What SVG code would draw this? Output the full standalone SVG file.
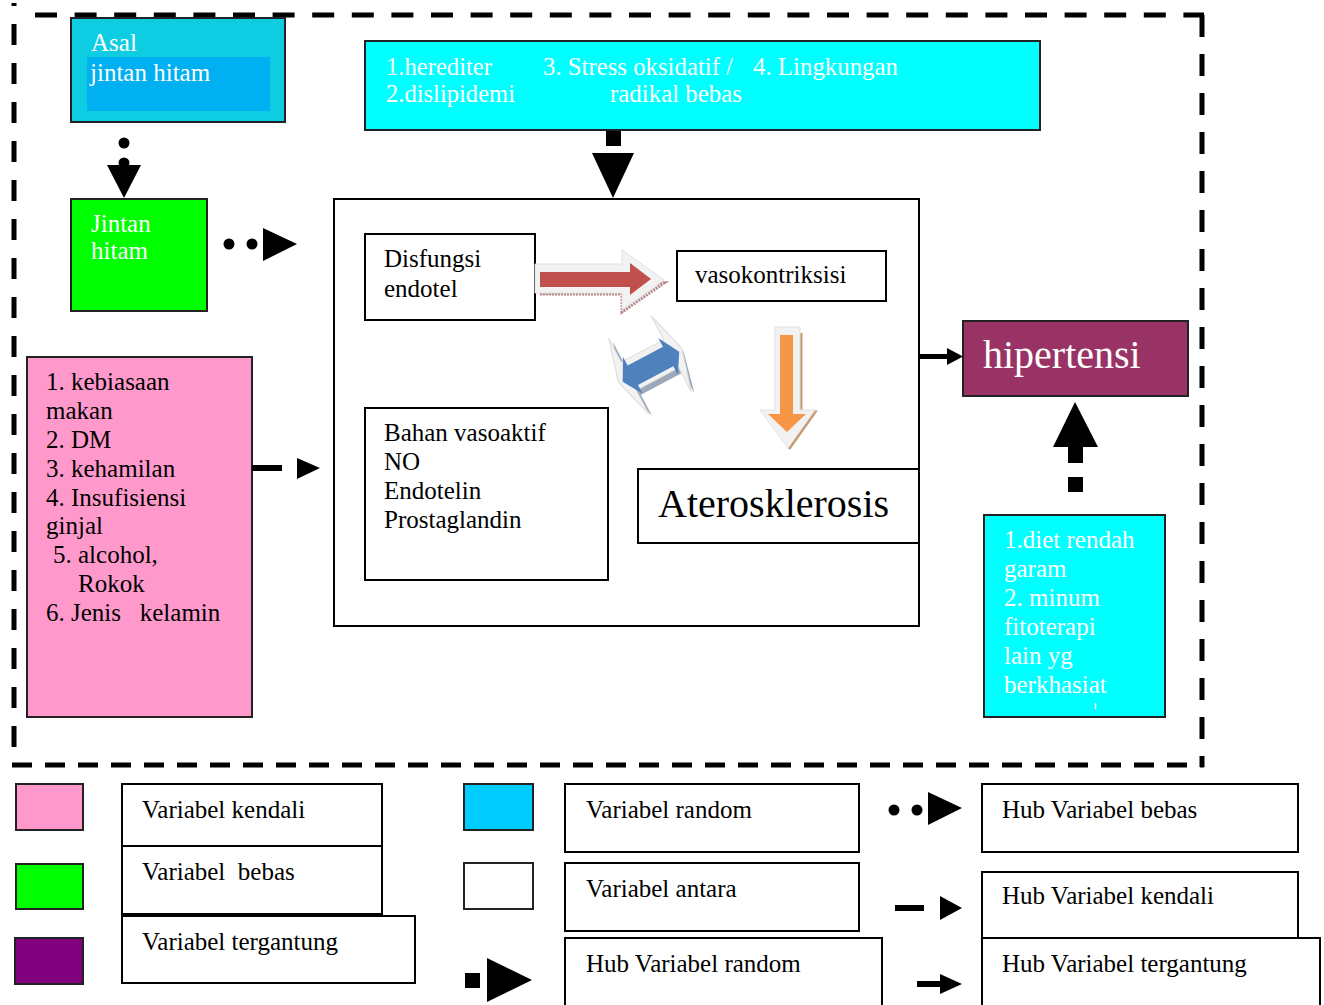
<svg xmlns="http://www.w3.org/2000/svg" width="1324" height="1005" viewBox="0 0 1324 1005">
<style>
.t{font-family:"Liberation Serif","Times New Roman",serif;font-size:25px;fill:#000}
.w{fill:#fff}
.big{font-size:40px}
.top{font-size:26px}
.box{fill:#fff;stroke:#000;stroke-width:2}
.cbox{stroke:#222;stroke-width:2}
.dash{fill:none;stroke:#000;stroke-width:5}
.blk{fill:#000}
</style>
<rect width="1324" height="1005" fill="#fff"/>

<g id="border">
  <line class="dash" x1="35" y1="15" x2="1204" y2="15" stroke-dasharray="22 17.6"/>
  <line class="dash" x1="14" y1="3" x2="14" y2="765" stroke-dasharray="21 18" stroke-dashoffset="18"/>
  <line class="dash" x1="1202" y1="15" x2="1202" y2="767" stroke-dasharray="22 17"/>
  <line class="dash" x1="12" y1="765" x2="1204" y2="765" stroke-dasharray="20 13"/>
</g>

<g id="asal">
  <rect x="71" y="18" width="214" height="104" fill="#0ecde3" class="cbox"/>
  <rect x="87" y="57" width="183" height="54" fill="#00b0f0"/>
  <text class="t w" x="91" y="51">Asal</text>
  <text class="t w" x="90" y="81">jintan hitam</text>
</g>

<g id="random-top">
  <rect x="365" y="41" width="675" height="89" fill="#00ffff" class="cbox"/>
  <text class="t w top" x="386" y="75" textLength="106" lengthAdjust="spacingAndGlyphs">1.herediter</text>
  <text class="t w top" x="543" y="75" textLength="190" lengthAdjust="spacingAndGlyphs">3. Stress oksidatif /</text>
  <text class="t w top" x="753" y="75" textLength="145" lengthAdjust="spacingAndGlyphs">4. Lingkungan</text>
  <text class="t w top" x="386" y="102" textLength="129" lengthAdjust="spacingAndGlyphs">2.dislipidemi</text>
  <text class="t w top" x="610" y="102" textLength="132" lengthAdjust="spacingAndGlyphs">radikal bebas</text>
</g>

<g id="jintan">
  <rect x="71" y="199" width="136" height="112" fill="#00ff00" class="cbox"/>
  <text class="t w" x="91" y="232">Jintan</text>
  <text class="t w" x="91" y="259">hitam</text>
</g>

<g id="antara">
  <rect class="box" x="334" y="199" width="585" height="427"/>
</g>

<g id="disfungsi">
  <rect class="box" x="365" y="234" width="170" height="86"/>
  <text class="t" x="384" y="267">Disfungsi</text>
  <text class="t" x="384" y="297">endotel</text>
</g>

<g id="vasokontriksi">
  <rect class="box" x="677" y="251" width="209" height="50"/>
  <text class="t" x="695" y="283">vasokontriksisi</text>
</g>

<g id="bahan">
  <rect class="box" x="365" y="408" width="243" height="172"/>
  <text class="t" x="384" y="441">Bahan vasoaktif</text>
  <text class="t" x="384" y="470">NO</text>
  <text class="t" x="384" y="499">Endotelin</text>
  <text class="t" x="384" y="528">Prostaglandin</text>
</g>

<g id="aterosklerosis">
  <rect class="box" x="638" y="469" width="281" height="74"/>
  <text class="t big" x="658" y="517">Aterosklerosis</text>
</g>

<g id="hipertensi">
  <rect x="963" y="321" width="225" height="75" fill="#993366" class="cbox"/>
  <text class="t w big" x="983" y="368">hipertensi</text>
</g>

<g id="kendali">
  <rect x="27" y="357" width="225" height="360" fill="#ff99cc" class="cbox"/>
  <text class="t" x="46" y="390">1. kebiasaan</text>
  <text class="t" x="46" y="419">makan</text>
  <text class="t" x="46" y="448">2. DM</text>
  <text class="t" x="46" y="477">3. kehamilan</text>
  <text class="t" x="46" y="506">4. Insufisiensi</text>
  <text class="t" x="46" y="534">ginjal</text>
  <text class="t" x="53" y="563">5. alcohol,</text>
  <text class="t" x="78" y="592">Rokok</text>
  <text class="t" x="46" y="621" xml:space="preserve">6. Jenis   kelamin</text>
</g>

<g id="diet">
  <rect x="984" y="515" width="181" height="202" fill="#00ffff" class="cbox"/>
  <text class="t w" x="1004" y="548">1.diet rendah</text>
  <text class="t w" x="1004" y="577">garam</text>
  <text class="t w" x="1004" y="606">2. minum</text>
  <text class="t w" x="1004" y="635">fitoterapi</text>
  <text class="t w" x="1004" y="664">lain yg</text>
  <text class="t w" x="1004" y="693">berkhasiat</text>
  <line x1="1095.5" y1="703" x2="1095.5" y2="709" stroke="#fff" stroke-width="1.5"/>
</g>

<g id="connectors">
  <!-- Asal to Jintan (dotted) -->
  <circle class="blk" cx="124" cy="143" r="5.5"/>
  <circle class="blk" cx="124" cy="163" r="5.5"/>
  <polygon class="blk" points="107,165 141,165 124,198"/>
  <!-- Jintan to box (dots) -->
  <circle class="blk" cx="229" cy="244" r="5.5"/>
  <circle class="blk" cx="252" cy="244" r="5.5"/>
  <polygon class="blk" points="263,228 263,261 297,244"/>
  <!-- random top to box -->
  <rect class="blk" x="606" y="131" width="15" height="15"/>
  <polygon class="blk" points="592,153 634,153 613,198"/>
  <!-- kendali to box -->
  <rect class="blk" x="252" y="465" width="30" height="6"/>
  <polygon class="blk" points="297,458 297,479 320,468"/>
  <!-- box to hipertensi -->
  <rect class="blk" x="919" y="354" width="30" height="5"/>
  <polygon class="blk" points="947,348 947,365 963,356.5"/>
  <!-- diet to hipertensi -->
  <rect class="blk" x="1068" y="477" width="15" height="15"/>
  <rect class="blk" x="1068" y="446" width="15" height="17"/>
  <polygon class="blk" points="1053,447 1098,447 1075,402"/>

  <!-- red arrow: disfungsi -> vasokontriksi -->
  <g id="red-arrow">
    <polygon points="540,294 622,294 622,312 664,283" fill="none" stroke="#b78585" stroke-width="3" stroke-dasharray="2 1"/>
    <polygon points="535,264 622,264 622,250 664,280 622,310 622,293 535,293" fill="#f2f2f2" stroke="#e0e0e0" stroke-width="1"/>
    <polygon points="540,272 630,272 630,263 651,279 630,295 630,287 540,287" fill="#c0504d"/>
  </g>

  <!-- blue double arrow -->
  <g id="blue-arrow" transform="translate(650,365) rotate(-28)">
    <polygon points="-34,8 -24,-34 -24,-10 24,-10 24,-34 34,8 24,50 24,26 -24,26 -24,50" fill="#9aa8ba" transform="translate(2,-4)"/>
    <polygon points="-36,0 -24,-43 -24,-16 24,-16 24,-43 36,0 24,43 24,16 -24,16 -24,43" fill="#f2f2f2" stroke="#dcdcdc" stroke-width="1"/>
    <polygon points="-32,2 -20,-20 -20,-10 20,-10 20,-20 32,2 20,22 20,12 -20,12 -20,22" fill="#4f81bd"/>
  </g>

  <!-- orange arrow down -->
  <g id="orange-arrow">
    <polyline points="801,333 801,412 815,412 789,449" fill="none" stroke="#c89a72" stroke-width="3"/>
    <polygon points="775,327 800,327 800,410 815,410 788,448 760,410 775,410" fill="#f2f2f2" stroke="#e0e0e0" stroke-width="1"/>
    <polygon points="780,335 793,335 793,414 806,414 787,432 768,414 780,414" fill="#f79646"/>
  </g>
</g>

<g id="legend">
  <g id="leg-kendali">
    <rect x="16" y="784" width="67" height="46" fill="#ff99cc" class="cbox"/>
    <rect class="box" x="122" y="784" width="260" height="62"/>
    <text class="t" x="142" y="818">Variabel kendali</text>
  </g>
  <g id="leg-bebas">
    <rect x="16" y="864" width="67" height="45" fill="#00ff00" class="cbox"/>
    <rect class="box" x="122" y="846" width="260" height="68"/>
    <text class="t" x="142" y="880" xml:space="preserve">Variabel  bebas</text>
  </g>
  <g id="leg-tergantung">
    <rect x="15" y="938" width="68" height="46" fill="#800080" class="cbox"/>
    <rect class="box" x="122" y="916" width="293" height="67"/>
    <text class="t" x="142" y="950">Variabel tergantung</text>
  </g>
  <g id="leg-random">
    <rect x="464" y="784" width="69" height="46" fill="#00ccff" class="cbox"/>
    <rect class="box" x="565" y="784" width="294" height="68"/>
    <text class="t" x="586" y="818">Variabel random</text>
  </g>
  <g id="leg-antara">
    <rect x="464" y="863" width="69" height="46" fill="#fff" class="cbox"/>
    <rect class="box" x="565" y="863" width="294" height="68"/>
    <text class="t" x="586" y="897">Variabel antara</text>
  </g>
  <g id="leg-hub-random">
    <rect class="box" x="565" y="938" width="317" height="80"/>
    <text class="t" x="586" y="972">Hub Variabel random</text>
    <rect class="blk" x="465" y="973" width="15" height="15"/>
    <polygon class="blk" points="487,958 487,1002 532,980"/>
  </g>
  <g id="leg-hub-bebas">
    <circle class="blk" cx="894" cy="810" r="5.5"/>
    <circle class="blk" cx="917" cy="810" r="5.5"/>
    <polygon class="blk" points="928,792 928,825 962,808"/>
    <rect class="box" x="982" y="784" width="316" height="68"/>
    <text class="t" x="1002" y="818">Hub Variabel bebas</text>
  </g>
  <g id="leg-hub-kendali">
    <rect class="blk" x="895" y="905" width="29" height="6"/>
    <polygon class="blk" points="940,896 940,920 962,908"/>
    <rect class="box" x="982" y="872" width="316" height="66"/>
    <text class="t" x="1002" y="904">Hub Variabel kendali</text>
  </g>
  <g id="leg-hub-tergantung">
    <rect class="blk" x="917" y="981" width="25" height="6"/>
    <polygon class="blk" points="940,974 940,994 962,984"/>
    <rect class="box" x="982" y="938" width="338" height="80"/>
    <text class="t" x="1002" y="972">Hub Variabel tergantung</text>
  </g>
</g>
</svg>
